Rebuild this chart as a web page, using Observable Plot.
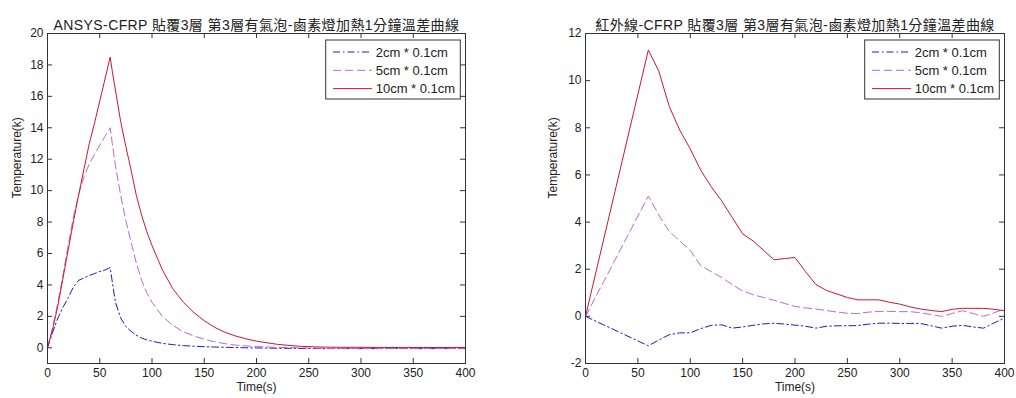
<!DOCTYPE html>
<html><head><meta charset="utf-8">
<script src="https://cdn.jsdelivr.net/npm/d3@7"></script>
<script src="https://cdn.jsdelivr.net/npm/@observablehq/plot@0.6"></script>
<style>
body{margin:0;background:#fff}
#wrap{display:flex;width:1016px;height:398px;overflow:hidden}
</style></head><body><div id="wrap"></div>
<script>
// ---- shared ----
const xTicks = [0, 50, 100, 150, 200, 250, 300, 350, 400];
const seriesNames = ["2cm * 0.1cm", "5cm * 0.1cm", "10cm * 0.1cm"];
const seriesColors = ["#1c1cc8", "#b66ad8", "#d3142c"];
const seriesDash = ["7,3,1.5,3", "8,4", null];

// ---- left panel: ANSYS simulation ----
const ansysTitle = "ANSYS-CFRP 貼覆3層 第3層有氣泡-鹵素燈加熱1分鐘溫差曲線";
const ansysYTicks = [0, 2, 4, 6, 8, 10, 12, 14, 16, 18, 20];
const ansysTime = [0, 5, 10, 15, 20, 25, 30, 35, 40, 45, 50, 55, 60, 62, 65, 70, 75, 80, 85, 90, 95, 100, 110, 120, 130, 140, 150, 160, 170, 180, 190, 200, 220, 240, 260, 280, 300, 320, 340, 360, 380, 400];
const ansys2cm = [0, 1.0, 1.9, 2.6, 3.2, 3.9, 4.3, 4.45, 4.6, 4.72, 4.85, 4.95, 5.1, 4.2, 2.9, 1.9, 1.35, 1.05, 0.8, 0.62, 0.5, 0.42, 0.28, 0.2, 0.14, 0.1, 0.07, 0.05, 0.03, 0.02, 0, -0.01, -0.03, -0.04, -0.05, -0.05, -0.05, -0.05, -0.05, -0.05, -0.05, -0.05];
const ansys5cm = [0, 1.3, 2.9, 4.7, 6.6, 8.4, 9.8, 10.9, 11.7, 12.3, 12.9, 13.45, 14.0, 13.0, 11.6, 9.7, 8.1, 6.7, 5.4, 4.3, 3.5, 2.9, 2.0, 1.42, 1.02, 0.75, 0.55, 0.38, 0.26, 0.17, 0.12, 0.08, 0.03, 0, -0.03, -0.05, -0.05, -0.05, -0.05, -0.05, -0.05, -0.05];
const ansys10cm = [0, 1.2, 2.7, 4.5, 6.3, 8.1, 9.8, 11.4, 13.0, 14.3, 15.7, 17.1, 18.5, 17.6, 16.4, 14.4, 12.8, 11.3, 9.7, 8.45, 7.4, 6.5, 4.95, 3.75, 2.9, 2.25, 1.72, 1.3, 0.98, 0.75, 0.57, 0.42, 0.22, 0.1, 0.05, 0.03, 0.03, 0.02, 0.02, 0.02, 0.02, 0.02];

// ---- right panel: infrared measurement ----
const irTitle = "紅外線-CFRP 貼覆3層 第3層有氣泡-鹵素燈加熱1分鐘溫差曲線";
const irYTicks = [-2, 0, 2, 4, 6, 8, 10, 12];
const irTime = [0, 60, 70, 80, 90, 100, 110, 120, 130, 140, 150, 160, 170, 180, 190, 200, 210, 220, 230, 240, 250, 260, 270, 280, 290, 300, 310, 320, 330, 340, 350, 360, 370, 380, 390, 400];
const ir2cm = [0, -1.25, -1.0, -0.78, -0.7, -0.7, -0.52, -0.38, -0.36, -0.5, -0.45, -0.38, -0.32, -0.29, -0.33, -0.37, -0.42, -0.5, -0.42, -0.4, -0.4, -0.39, -0.33, -0.29, -0.29, -0.3, -0.3, -0.3, -0.4, -0.5, -0.42, -0.38, -0.45, -0.5, -0.28, -0.07];
const ir5cm = [0, 5.1, 4.3, 3.6, 3.2, 2.8, 2.15, 1.9, 1.65, 1.35, 1.08, 0.92, 0.8, 0.68, 0.55, 0.42, 0.36, 0.31, 0.25, 0.18, 0.13, 0.12, 0.18, 0.21, 0.21, 0.2, 0.2, 0.15, 0.08, 0.0, 0.12, 0.24, 0.12, 0.0, 0.15, 0.31];
const ir10cm = [0, 11.3, 10.4, 8.9, 7.9, 7.1, 6.2, 5.5, 4.9, 4.2, 3.5, 3.2, 2.8, 2.4, 2.45, 2.5, 1.9, 1.35, 1.1, 0.95, 0.8, 0.7, 0.7, 0.7, 0.6, 0.52, 0.4, 0.31, 0.25, 0.2, 0.3, 0.34, 0.34, 0.34, 0.3, 0.24];

const FONT = '"Liberation Sans", Arial, "Noto Sans CJK TC", sans-serif';

function panel({title, time, values, yDomain, yTicks, ml, mr, yLabelDx}) {
  const W = 508, H = 398, mt = 33, mb = 35;
  const fw = W - ml - mr, fh = H - mt - mb;
  const tk = 5;
  const lines = values.map((vals, k) =>
    Plot.line(time.map((t, i) => ({t, v: vals[i]})), {
      x: "t", y: "v", stroke: seriesColors[k], strokeWidth: 1,
      strokeDasharray: seriesDash[k]
    }));
  const chart = Plot.plot({
    width: W, height: H, marginLeft: ml, marginRight: mr, marginTop: mt, marginBottom: mb,
    style: {fontFamily: FONT, fontSize: "12px", color: "#222", background: "#fff"},
    x: {domain: [0, 400]},
    y: {domain: yDomain},
    marks: [
      Plot.axisX({ticks: xTicks, tickSize: 0, tickPadding: 5, label: null, tickFormat: d => String(d)}),
      Plot.axisY({ticks: yTicks, tickSize: 0, tickPadding: 4, label: null, tickFormat: d => String(d)}),
      Plot.tickX(xTicks, {x: d => d, insetTop: fh - tk, stroke: "#333"}),
      Plot.tickX(xTicks, {x: d => d, insetBottom: fh - tk, stroke: "#333"}),
      Plot.tickY(yTicks, {y: d => d, insetRight: fw - tk, stroke: "#333"}),
      Plot.tickY(yTicks, {y: d => d, insetLeft: fw - tk, stroke: "#333"}),
      ...lines,
      Plot.frame({stroke: "#333"}),
      Plot.text([title], {text: d => d, frameAnchor: "top", dy: -13, fontSize: 14, fill: "#222"}),
      Plot.text(["Time(s)"], {text: d => d, frameAnchor: "bottom", dy: 27, fill: "#222"}),
      Plot.text(["Temperature(k)"], {text: d => d, frameAnchor: "left", dx: yLabelDx, rotate: -90, fill: "#222"})
    ]
  });
  const svg = d3.select(chart);
  svg.selectAll("text").filter(function () { return this.textContent === title; })
    .attr("letter-spacing", "0.4");
  // legend box (top-right inside the frame)
  const bx = W - mr - 139.3, by = 40, bw = 134.6, bh = 59;
  const g = svg.append("g").attr("font-family", FONT).attr("font-size", 13)
    .attr("text-anchor", "start");
  g.append("rect").attr("x", bx).attr("y", by).attr("width", bw).attr("height", bh)
    .attr("fill", "#fff").attr("stroke", "#333");
  seriesNames.forEach((name, k) => {
    const yy = by + 12 + k * 18.3;
    g.append("line").attr("x1", bx + 7.3).attr("x2", bx + 46.3).attr("y1", yy).attr("y2", yy)
      .attr("stroke", seriesColors[k]).attr("stroke-width", 1)
      .attr("stroke-dasharray", seriesDash[k]);
    g.append("text").attr("x", bx + 50).attr("y", yy).attr("dy", "0.35em")
      .attr("text-anchor", "start").attr("fill", "#222").text(name);
  });
  return chart;
}

const wrap = document.getElementById("wrap");
wrap.appendChild(panel({
  title: ansysTitle, time: ansysTime, values: [ansys2cm, ansys5cm, ansys10cm],
  yDomain: [-1, 20], yTicks: ansysYTicks, ml: 47, mr: 43, yLabelDx: -30
}));
wrap.appendChild(panel({
  title: irTitle, time: irTime, values: [ir2cm, ir5cm, ir10cm],
  yDomain: [-2, 12], yTicks: irYTicks, ml: 77, mr: 12, yLabelDx: -32
}));
</script></body></html>
